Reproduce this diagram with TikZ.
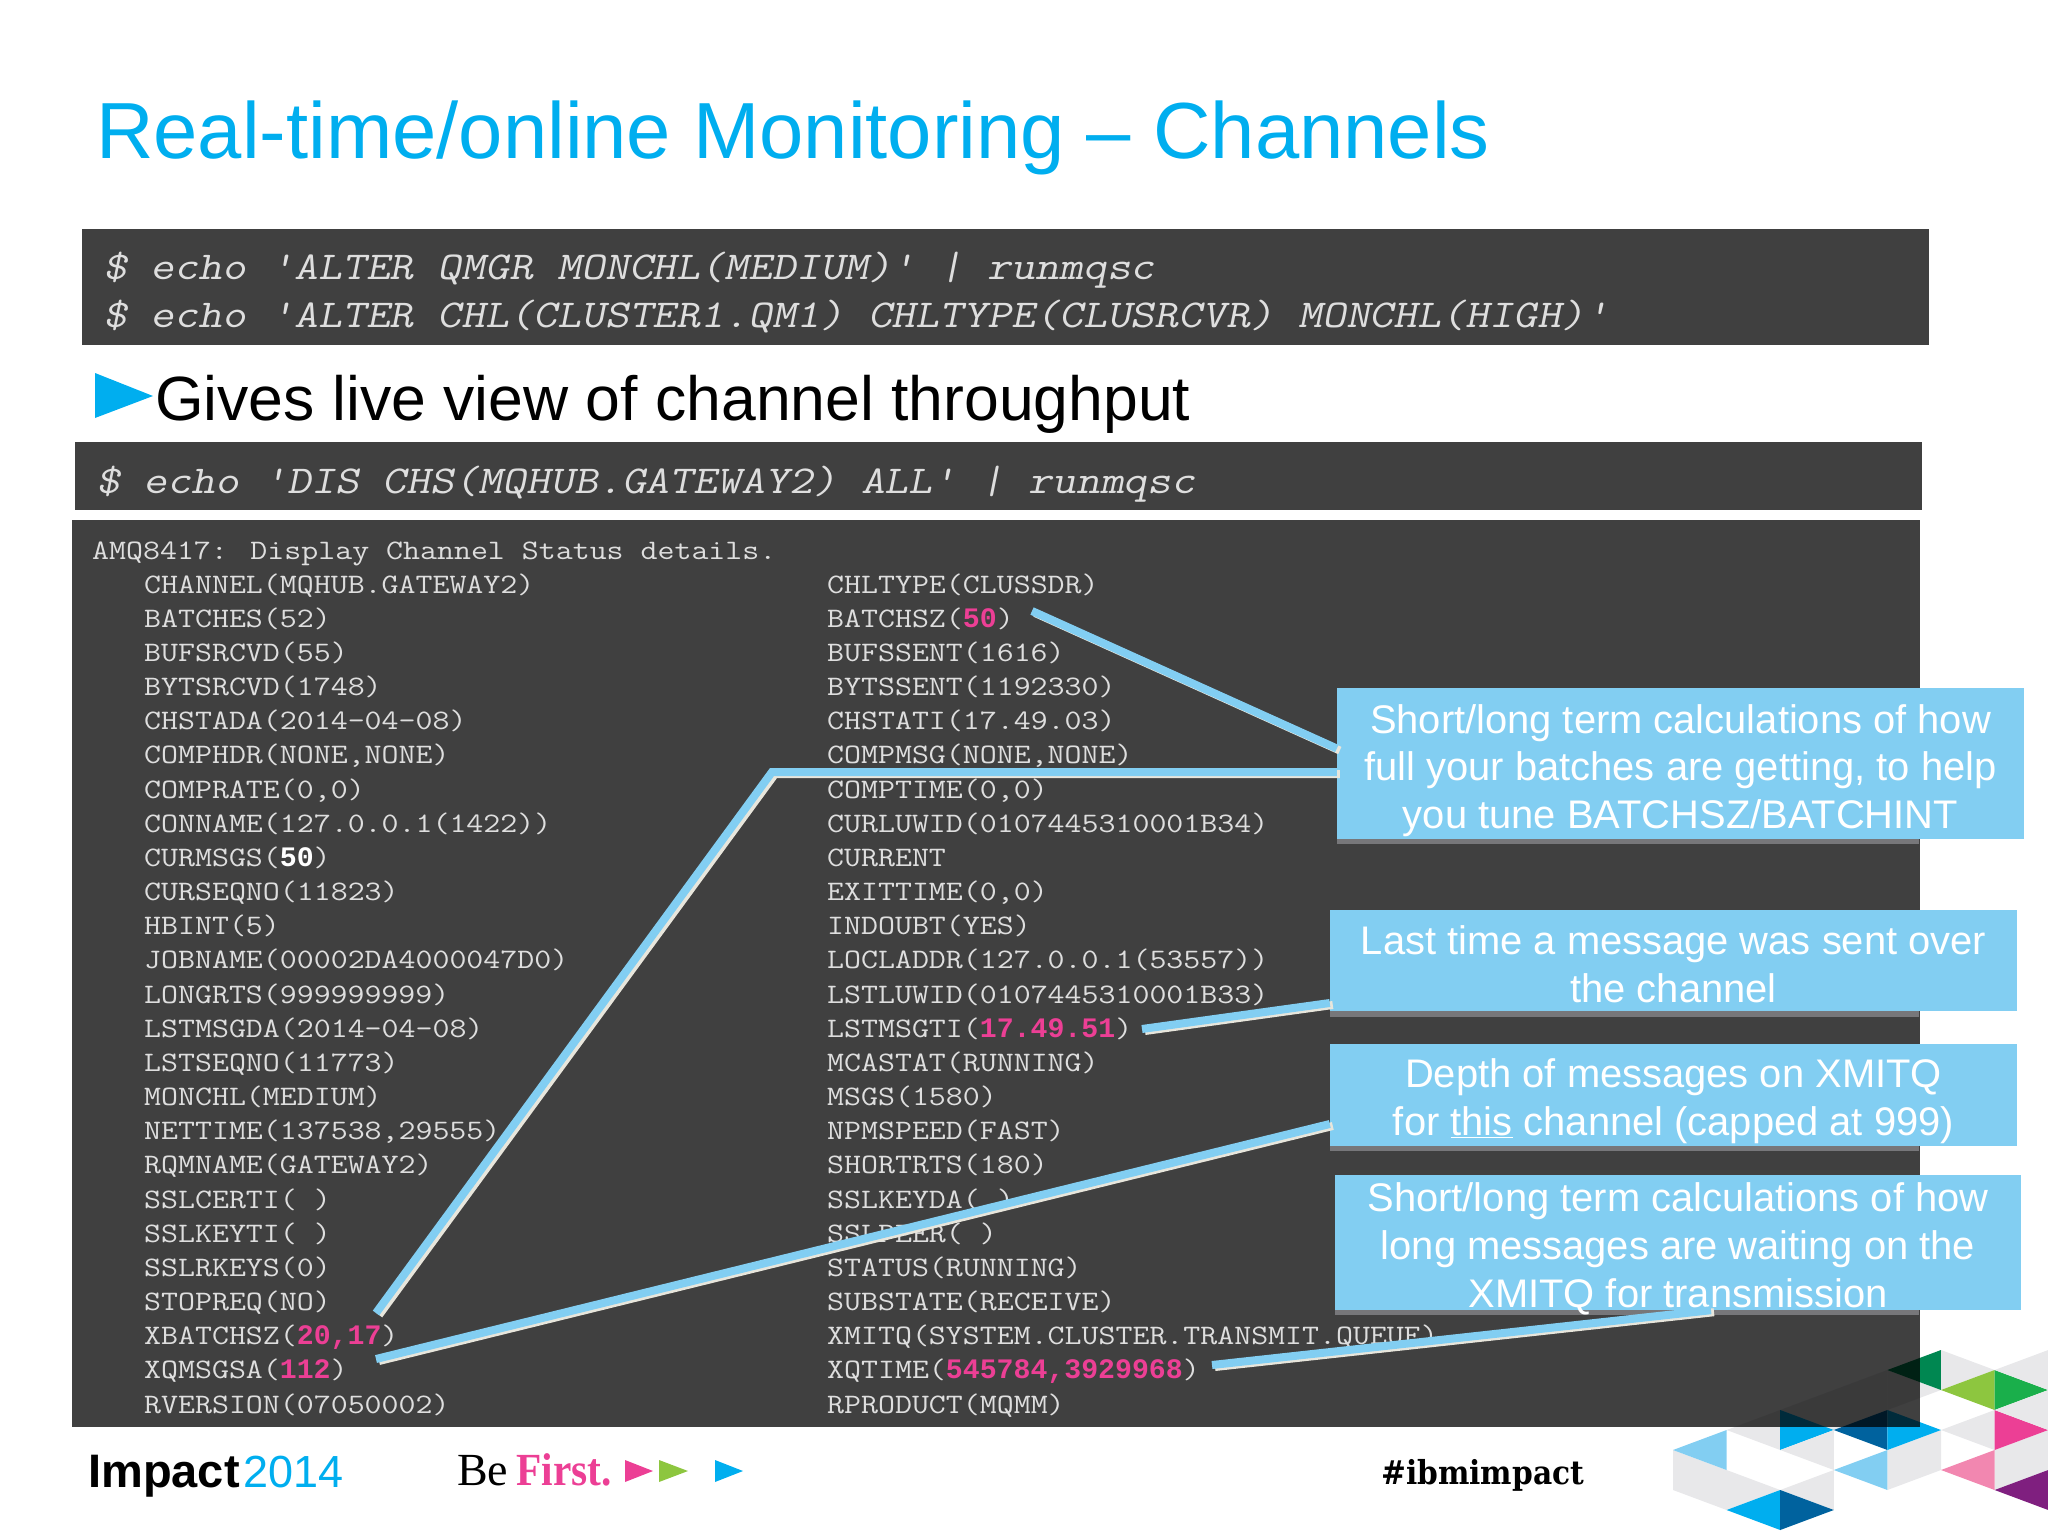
\documentclass[tikz,border=0pt]{standalone}
\usepackage{fontspec}
\setmainfont{Liberation Sans}
\usetikzlibrary{positioning,calc}
\newfontfamily\dumpfont[FakeStretch=1.168]{Latin Modern Mono}
\newfontfamily\cmdfont[FakeStretch=1.175,FakeSlant=0.2]{Latin Modern Mono}
\newfontfamily\valfont{Liberation Mono}
\newfontfamily\slabfont{Liberation Serif}
\newfontfamily\firstfont[FakeStretch=0.9]{Liberation Serif}
\newfontfamily\tagfont[FakeStretch=0.9]{DejaVu Serif}
\definecolor{titleblue}{HTML}{00AEEF}
\definecolor{calloutblue}{HTML}{82CEF2}
\definecolor{leadershade}{HTML}{E8E6DC}
\definecolor{dropgrey}{HTML}{77777A}
\definecolor{dumpgrey}{HTML}{DEDEDE}
\definecolor{hotpink}{HTML}{EC3F95}
\definecolor{limegreen}{HTML}{8DC63F}
\definecolor{leafgreen}{HTML}{1AAF4B}
\definecolor{pinegreen}{HTML}{008751}
\definecolor{deepblue}{HTML}{00629E}
\definecolor{softpink}{HTML}{F287B0}
\definecolor{plum}{HTML}{7F1F7F}
\definecolor{hexgrey}{HTML}{E8E8EA}
\newcommand{\hot}[1]{{\valfont\fontsize{28.2}{34}\selectfont\bfseries\color{hotpink}#1}}
\newcommand{\wht}[1]{{\valfont\fontsize{28.2}{34}\selectfont\bfseries\color{white}#1}}
\tikzset{
    %Define style for boxes
    panel/.style={
        rectangle,
        fill=black,
        fill opacity=0.75,
        inner sep=0pt,
    },
    cmd/.style={
        anchor=base west,
        inner sep=0pt,
        text=dumpgrey,
        font=\cmdfont\fontsize{39.5}{48}\selectfont,
    },
    dump/.style={
        anchor=base west,
        inner sep=0pt,
        text=dumpgrey,
        font=\dumpfont\fontsize{28.2}{34}\selectfont,
    },
    callout/.style={
        rectangle,
        fill=calloutblue,
        inner sep=0pt,
    },
    callouttext/.style={
        text=white,
        inner sep=0pt,
        align=center,
        font=\fontsize{39.9}{47.8}\selectfont,
    },
    leader/.style={
        draw=calloutblue,
        line width=8pt,
        preaction={
            draw=leadershade,
            line width=8pt,
            transform canvas={shift={(3pt,-2pt)}},
        },
    },
    hexcell/.style={fill=#1},
    marker/.style={fill=#1},
}
\begin{document}
\begin{tikzpicture}[x=1pt,y=-1pt]
    \useasboundingbox (0,0) rectangle (2048,1536);

    % hexagon corner, the big panel sits over part of it
    \begin{scope}[shift={(1673,1350)},x=53.6pt,y=-20pt]
        \foreach \tint/\cella/\cellb/\cellc/\celld in {
            hexgrey/{(0,5)}/{(2,7)}/{(1,8)}/{(0,7)},
            hexgrey/{(4,5)}/{(5,4)}/{(5,6)}/{(4,7)},
            hexgrey/{(6,5)}/{(7,4)}/{(7,6)}/{(6,7)},
            hexgrey/{(3,2)}/{(4,1)}/{(4,3)}/{(3,4)}}
            \fill[hexcell=\tint] \cella -- \cellb -- \cellc -- \celld -- cycle;
        \foreach \tint/\cella/\cellb/\cellc in {
            calloutblue/{(0,5)}/{(1,4)}/{(1,6)},
            hexgrey/{(2,7)}/{(3,6)}/{(3,8)},
            hexgrey/{(1,4)}/{(2,3)}/{(2,5)},
            hexgrey/{(2,3)}/{(3,2)}/{(3,4)},
            hexgrey/{(4,1)}/{(5,2)}/{(4,3)},
            titleblue/{(2,3)}/{(3,4)}/{(2,5)},
            hexgrey/{(2,5)}/{(3,4)}/{(3,6)},
            deepblue/{(3,4)}/{(4,3)}/{(4,5)},
            titleblue/{(4,3)}/{(5,4)}/{(4,5)},
            calloutblue/{(3,6)}/{(4,5)}/{(4,7)},
            titleblue/{(1,8)}/{(2,7)}/{(2,9)},
            deepblue/{(2,7)}/{(3,8)}/{(2,9)},
            pinegreen/{(4,1)}/{(5,0)}/{(5,2)},
            hexgrey/{(5,0)}/{(6,1)}/{(5,2)},
            limegreen/{(5,2)}/{(6,1)}/{(6,3)},
            leafgreen/{(6,1)}/{(7,2)}/{(6,3)},
            hexgrey/{(6,1)}/{(7,0)}/{(7,2)},
            hexgrey/{(5,4)}/{(6,3)}/{(6,5)},
            hotpink/{(6,3)}/{(7,4)}/{(6,5)},
            hexgrey/{(6,3)}/{(7,2)}/{(7,4)},
            softpink/{(5,6)}/{(6,5)}/{(6,7)},
            plum/{(6,7)}/{(7,6)}/{(7,8)}}
            \fill[hexcell=\tint] \cella -- \cellb -- \cellc -- cycle;
    \end{scope}

    \node[anchor=base west,inner sep=0pt,text=titleblue,font=\fontsize{79.6}{84}\selectfont] (title) at (96,158) {Real-time/online Monitoring -- Channels};

    \node[panel,minimum width=1847,minimum height=116] (cmdbox) at (1005.5,287) {};
    \node[cmd] (cmda) at (103,279) {\$ echo 'ALTER QMGR MONCHL(MEDIUM)' | runmqsc};
    \node[cmd] (cmdb) at (103,327) {\$ echo 'ALTER CHL(CLUSTER1.QM1) CHLTYPE(CLUSRCVR) MONCHL(HIGH)'};

    \fill[titleblue] (95,373) -- (153,396) -- (95,418) -- cycle;
    \node[anchor=base west,inner sep=0pt,font=\fontsize{62.5}{66}\selectfont] (gives) at (155,420) {Gives live view of channel throughput};

    \node[panel,minimum width=1847,minimum height=68] (disbox) at (998.5,476) {};
    \node[cmd] (discmd) at (96,493) {\$ echo 'DIS CHS(MQHUB.GATEWAY2) ALL' | runmqsc};

    \node[panel,minimum width=1848,minimum height=907] (outbox) at (996,973.5) {};
    \node[dump] (amq) at (92,559) {AMQ8417: Display Channel Status details.};
    \foreach \txt [count=\i] in {
        {CHANNEL(MQHUB.GATEWAY2)},{BATCHES(52)},{BUFSRCVD(55)},{BYTSRCVD(1748)},
        {CHSTADA(2014-04-08)},{COMPHDR(NONE,NONE)},{COMPRATE(0,0)},
        {CONNAME(127.0.0.1(1422))},{CURMSGS(\wht{50})},{CURSEQNO(11823)},{HBINT(5)},
        {JOBNAME(00002DA4000047D0)},{LONGRTS(999999999)},{LSTMSGDA(2014-04-08)},
        {LSTSEQNO(11773)},{MONCHL(MEDIUM)},{NETTIME(137538,29555)},{RQMNAME(GATEWAY2)},
        {SSLCERTI( )},{SSLKEYTI( )},{SSLRKEYS(0)},{STOPREQ(NO)},
        {XBATCHSZ(\hot{20,17})},{XQMSGSA(\hot{112})},{RVERSION(07050002)}}
        \node[dump] (lft\i) at (144,{559+34.16*\i}) {\txt};
    \foreach \txt [count=\i] in {
        {CHLTYPE(CLUSSDR)},{BATCHSZ(\hot{50})},{BUFSSENT(1616)},{BYTSSENT(1192330)},
        {CHSTATI(17.49.03)},{COMPMSG(NONE,NONE)},{COMPTIME(0,0)},
        {CURLUWID(0107445310001B34)},{CURRENT},{EXITTIME(0,0)},{INDOUBT(YES)},
        {LOCLADDR(127.0.0.1(53557))},{LSTLUWID(0107445310001B33)},{LSTMSGTI(\hot{17.49.51})},
        {MCASTAT(RUNNING)},{MSGS(1580)},{NPMSPEED(FAST)},{SHORTRTS(180)},
        {SSLKEYDA( )},{SSLPEER( )},{STATUS(RUNNING)},{SUBSTATE(RECEIVE)},
        {XMITQ(SYSTEM.CLUSTER.TRANSMIT.QUEUE)},{XQTIME(\hot{545784,3929968})},{RPRODUCT(MQMM)}}
        \node[dump] (rgt\i) at (827,{559+34.16*\i}) {\txt};

    % grey edge under each callout, on the panel only
    \fill[dropgrey] (1337,839) rectangle (1919,844);
    \fill[dropgrey] (1330,1011) rectangle (1919,1017);
    \fill[dropgrey] (1330,1146) rectangle (1919,1151);
    \fill[dropgrey] (1335,1310) rectangle (1919,1315);

    \node[callout,minimum width=687,minimum height=151] (callA) at (1680.5,763.5) {};
    \node[callouttext,yshift=-7pt] (textA) at (callA) {Short/long term calculations of how\\full your batches are getting, to help\\you tune BATCHSZ/BATCHINT};
    \node[callout,minimum width=687,minimum height=101] (callB) at (1673.5,960.5) {};
    \node[callouttext,yshift=-4pt] (textB) at (callB) {Last time a message was sent over\\the channel};
    \node[callout,minimum width=687,minimum height=102] (callC) at (1673.5,1095) {};
    \node[callouttext,yshift=-6.5pt] (textC) at (callC) {Depth of messages on XMITQ\\for \underline{this} channel (capped at 999)};
    \node[callout,minimum width=686,minimum height=135] (callD) at (1678,1242.5) {};
    \node[callouttext,yshift=-6.5pt] (textD) at (callD) {Short/long term calculations of how\\long messages are waiting on the\\XMITQ for transmission};

    \coordinate (batchend) at (1032,611);
    \coordinate (stopend) at (376,1313);
    \coordinate (bend) at (772,772);
    \coordinate (timeend) at (1142,1029);
    \coordinate (depthend) at (376,1359);
    \coordinate (waitend) at (1212,1365);

    \draw[leader] (batchend) -- ([yshift=15pt]callA.west);
    \draw[leader] (stopend) -- (bend) -- ([yshift=-8.5pt]callA.west);
    \draw[leader] (timeend) -- ([yshift=-42.5pt]callB.west);
    \draw[leader] (depthend) -- ([yshift=-29pt]callC.west);
    \draw[leader] (waitend) -- ([xshift=33pt]callD.south);

    % footer
    \node[anchor=base west,inner sep=0pt,font=\bfseries\fontsize{47}{50}\selectfont] (impact) at (88,1487) {Impact};
    \node[anchor=base west,inner sep=0pt,text=titleblue,font=\fontsize{45}{50}\selectfont] (year) at (243,1487) {2014};
    \node[anchor=base west,inner sep=0pt,font=\slabfont\fontsize{46}{50}\selectfont] (be) at (457,1485) {Be};
    \node[anchor=base west,inner sep=0pt,text=hotpink,font=\firstfont\bfseries\fontsize{46}{50}\selectfont] (first) at (516,1485) {First.};
    \fill[marker=hotpink] (625,1460) -- (653,1471) -- (625,1482) -- cycle;
    \fill[marker=limegreen] (659,1460) -- (688,1471) -- (659,1482) -- cycle;
    \fill[marker=titleblue] (715,1460) -- (743,1471) -- (715,1482) -- cycle;
    \node[anchor=base west,inner sep=0pt,font=\tagfont\bfseries\fontsize{33}{36}\selectfont] (tag) at (1381,1484) {\#ibmimpact};
\end{tikzpicture}
\end{document}
